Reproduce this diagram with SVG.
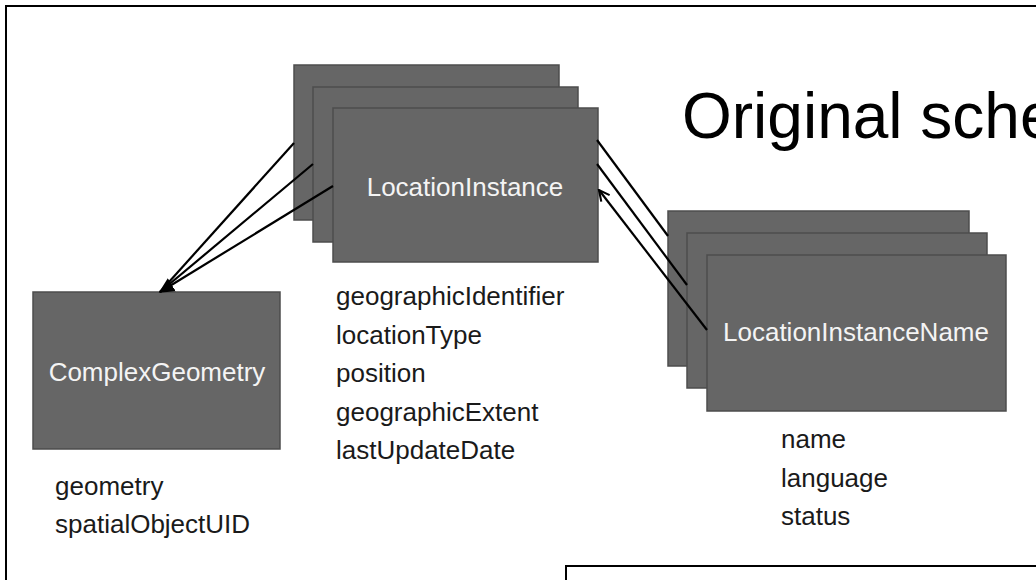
<svg xmlns="http://www.w3.org/2000/svg" width="1036" height="580" viewBox="0 0 1036 580">
<defs>
<style>
.box{fill:#666666;stroke:#4d4d4d;stroke-width:1.5}
.lbl{font-family:"Liberation Sans",Arial,sans-serif;font-size:26px;fill:#f4f4f4;text-anchor:middle}
.attr{font-family:"Liberation Sans",Arial,sans-serif;font-size:26px;fill:#1a1a1a}
.title{font-family:"Liberation Sans",Arial,sans-serif;font-size:64px;fill:#000}
.conn{stroke:#000;stroke-width:2.2;fill:none}
.frame{fill:none;stroke:#000;stroke-width:2}
</style>
<marker id="filled" viewBox="0 0 10 10" refX="9" refY="5" markerWidth="7" markerHeight="7" orient="auto" markerUnits="strokeWidth">
<path d="M0,0 L10,5 L0,10 z" fill="#000"/>
</marker>
<marker id="open" viewBox="0 0 10 10" refX="9" refY="5" markerWidth="6" markerHeight="6" orient="auto" markerUnits="strokeWidth">
<path d="M1,1 L9,5 L1,9" fill="none" stroke="#000" stroke-width="1.6"/>
</marker>
</defs>
<rect x="0" y="0" width="1036" height="580" fill="#ffffff"/>
<rect class="frame" x="6" y="6" width="1040" height="590"/>
<text class="title" x="682" y="138">Original sche</text>

<g id="node-locationinstance">
<rect class="box" x="294" y="65" width="265" height="155"/>
<rect class="box" x="313" y="87" width="265" height="155"/>
<rect class="box" x="333" y="108" width="265" height="154"/>
<text class="lbl" x="465" y="196">LocationInstance</text>
<text class="attr" x="336" y="305">geographicIdentifier</text>
<text class="attr" x="336" y="344">locationType</text>
<text class="attr" x="336" y="382">position</text>
<text class="attr" x="336" y="421">geographicExtent</text>
<text class="attr" x="336" y="459">lastUpdateDate</text>
</g>

<g id="node-locationinstancename">
<rect class="box" x="668" y="211" width="301" height="155"/>
<rect class="box" x="687" y="233" width="300" height="155"/>
<rect class="box" x="707" y="255" width="299" height="156"/>
<text class="lbl" x="856" y="341">LocationInstanceName</text>
<text class="attr" x="781" y="448">name</text>
<text class="attr" x="781" y="487">language</text>
<text class="attr" x="781" y="525">status</text>
</g>

<g id="node-complexgeometry">
<rect class="box" x="33" y="292" width="247" height="157"/>
<text class="lbl" x="157" y="381">ComplexGeometry</text>
<text class="attr" x="55" y="495">geometry</text>
<text class="attr" x="55" y="533">spatialObjectUID</text>
</g>

<g id="connectors">
<line class="conn" x1="294" y1="143" x2="160" y2="292"/>
<line class="conn" x1="313" y1="164" x2="160" y2="292"/>
<line class="conn" x1="333" y1="186" x2="160" y2="292" marker-end="url(#filled)"/>
<line class="conn" x1="597" y1="140" x2="668" y2="236"/>
<line class="conn" x1="597" y1="164" x2="687" y2="285"/>
<line class="conn" x1="707" y1="330" x2="599" y2="190" marker-end="url(#open)"/>
</g>

<rect class="frame" x="566" y="566" width="500" height="40"/>
</svg>
